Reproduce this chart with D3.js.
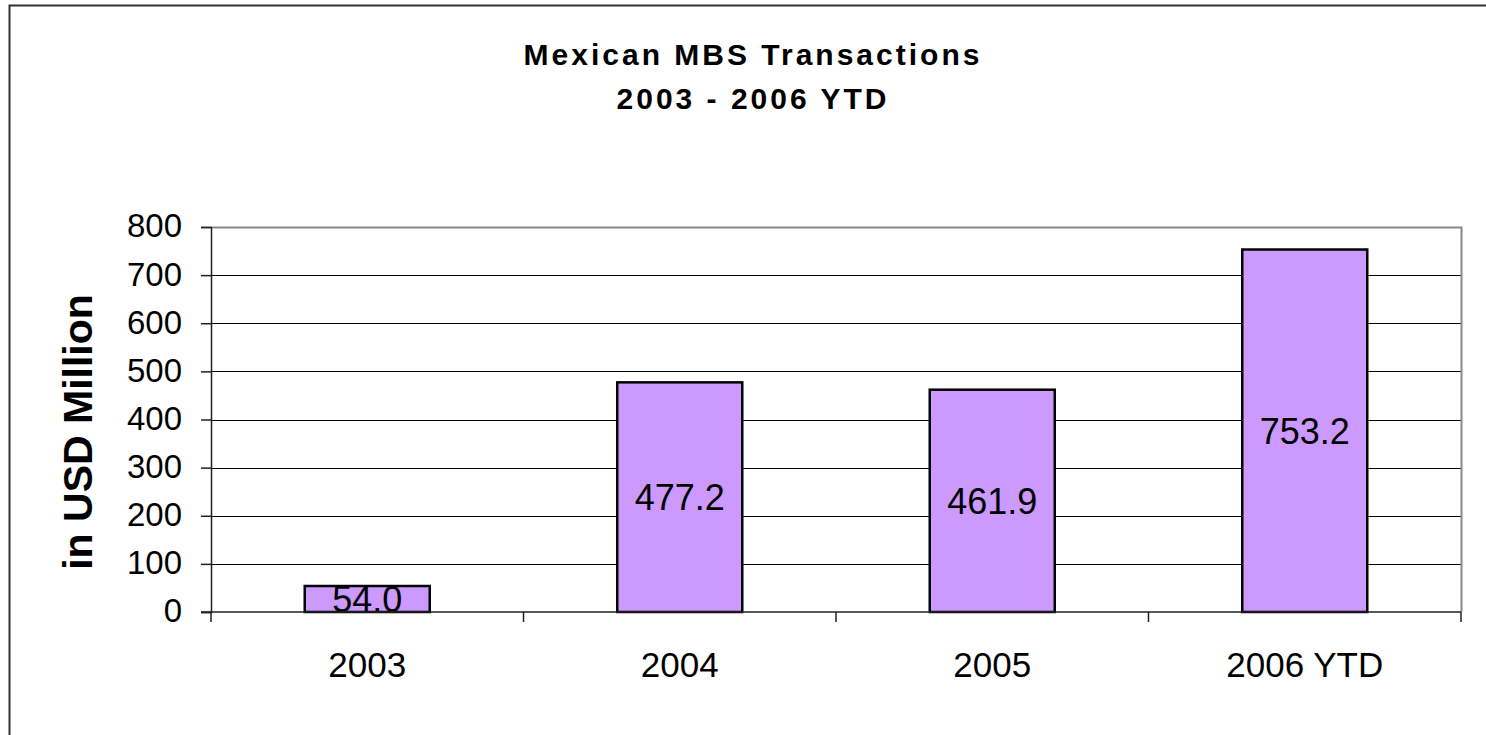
<!DOCTYPE html>
<html>
<head>
<meta charset="utf-8">
<script src="https://cdn.jsdelivr.net/npm/d3@7"></script>
<style>
  html, body { margin: 0; padding: 0; background: #fff; }
  svg { display: block; }
  text { font-family: Arial, "Liberation Sans", sans-serif; fill: #000; }
</style>
</head>
<body>
<svg id="chart" width="1486" height="735"></svg>
<script>
// Mexican MBS transactions by year, USD million
const categories = ["2003", "2004", "2005", "2006 YTD"];
const values = [54.0, 477.2, 461.9, 753.2];
const yTicks = [0, 100, 200, 300, 400, 500, 600, 700, 800];
const titleLines = ["Mexican MBS Transactions", "2003 - 2006 YTD"];
const yAxisTitle = "in USD Million";

const svg = d3.select("#chart");
const W = 1486, H = 735;
const plot = { left: 211, right: 1461, top: 227, bottom: 612 };

// outer chart frame
svg.append("rect")
  .attr("x", 9.5).attr("y", 5.5)
  .attr("width", W + 20).attr("height", H + 20)
  .attr("fill", "#fff").attr("stroke", "#333").attr("stroke-width", 2);

const x = d3.scaleBand()
  .domain(categories)
  .range([plot.left, plot.right])
  .paddingInner(0.6).paddingOuter(0.3);

const y = d3.scaleLinear()
  .domain([0, 800])
  .range([plot.bottom, plot.top]);

// horizontal gridlines
svg.append("g")
  .selectAll("line")
  .data(yTicks.filter(d => d > 0 && d < 800))
  .join("line")
  .attr("x1", plot.left).attr("x2", plot.right)
  .attr("y1", d => Math.round(y(d)) + 0.5).attr("y2", d => Math.round(y(d)) + 0.5)
  .attr("stroke", "#000").attr("stroke-width", 1);

// plot-area border (top and right in grey)
svg.append("path")
  .attr("d", `M${plot.left},${plot.top + 0.5}H${plot.right + 0.5}V${plot.bottom}`)
  .attr("fill", "none").attr("stroke", "#888").attr("stroke-width", 2);

// bars
svg.append("g")
  .selectAll("rect")
  .data(values)
  .join("rect")
  .attr("x", (d, i) => x(categories[i]))
  .attr("y", d => y(d))
  .attr("width", x.bandwidth())
  .attr("height", d => y(0) - y(d))
  .attr("fill", "#CC99FF")
  .attr("stroke", "#000").attr("stroke-width", 2.5);

// value labels centred in each bar
svg.append("g")
  .selectAll("text")
  .data(values)
  .join("text")
  .attr("x", (d, i) => x(categories[i]) + x.bandwidth() / 2)
  .attr("y", d => y(d / 2))
  .attr("dy", "0.36em")
  .attr("text-anchor", "middle")
  .attr("font-size", 36)
  .text(d => d.toFixed(1));

// y axis
const yAxis = d3.axisLeft(y).tickValues(yTicks).tickSize(10).tickPadding(19);
const gy = svg.append("g")
  .attr("transform", `translate(${plot.left},0)`)
  .call(yAxis);
gy.select(".domain").attr("stroke", "#222").attr("stroke-width", 1.5);
gy.selectAll(".tick line").attr("stroke", "#222").attr("stroke-width", 1.5);
gy.selectAll(".tick text")
  .attr("font-size", 33).attr("fill", "#000").attr("dy", "0.3em")
  .attr("font-family", "Arial, 'Liberation Sans', sans-serif");

// x axis with ticks at category boundaries
const gx = svg.append("g").attr("transform", `translate(0,${plot.bottom})`);
gx.append("line")
  .attr("x1", plot.left - 10).attr("x2", plot.right)
  .attr("stroke", "#222").attr("stroke-width", 1.5);
const boundaries = categories.map((c, i) => plot.left + i * x.step());
boundaries.push(plot.right);
gx.selectAll("line.tick")
  .data(boundaries)
  .join("line").attr("class", "tick")
  .attr("x1", d => d).attr("x2", d => d)
  .attr("y1", 0).attr("y2", 10)
  .attr("stroke", "#222").attr("stroke-width", 1.5);
gx.selectAll("text")
  .data(categories)
  .join("text")
  .attr("x", d => x(d) + x.bandwidth() / 2)
  .attr("y", 65)
  .attr("text-anchor", "middle")
  .attr("font-size", 35)
  .text(d => d);

// y axis title
svg.append("text")
  .attr("transform", `translate(92,432) rotate(-90)`)
  .attr("text-anchor", "middle")
  .attr("font-size", 41).attr("font-weight", "bold")
  .text(yAxisTitle);

// chart title
svg.append("g")
  .selectAll("text")
  .data(titleLines)
  .join("text")
  .attr("x", 753)
  .attr("y", (d, i) => 65 + i * 44)
  .attr("text-anchor", "middle")
  .attr("font-size", 30).attr("font-weight", "bold")
  .attr("letter-spacing", 3)
  .text(d => d);
</script>
</body>
</html>
